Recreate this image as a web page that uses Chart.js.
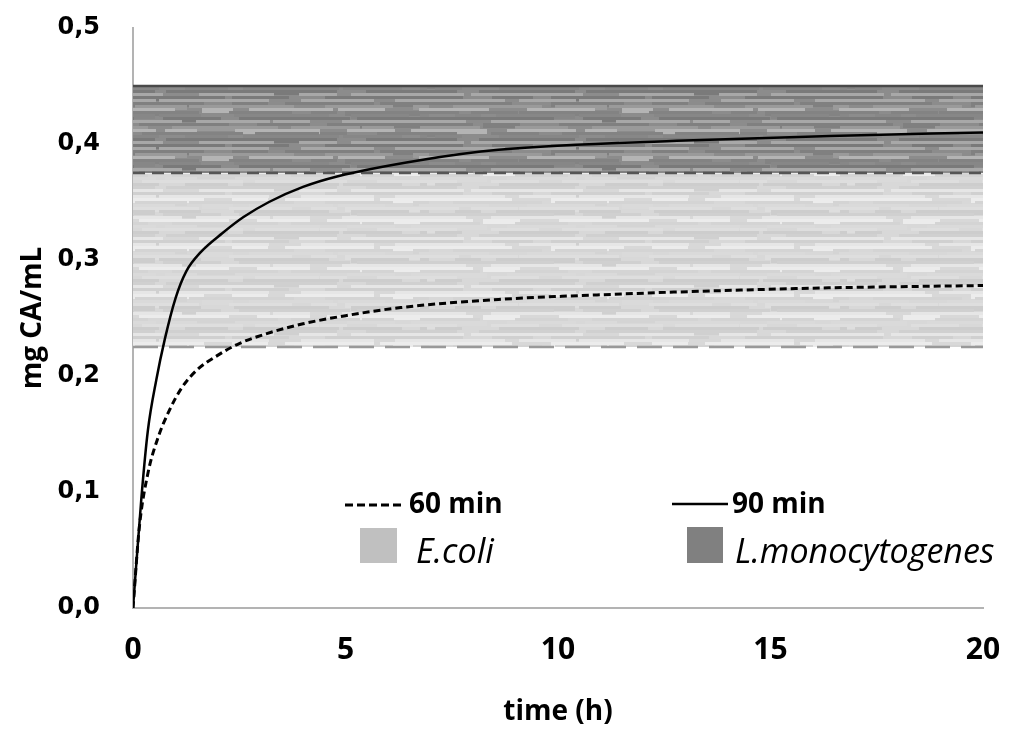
<!DOCTYPE html>
<html>
<head>
<meta charset="utf-8">
<script src="https://cdn.jsdelivr.net/npm/chart.js@4.4.1/dist/chart.umd.min.js"></script>
<style>
  html, body { margin: 0; padding: 0; background: #fff; }
  #wrap { position: relative; width: 1014px; height: 729px; }
  canvas { position: absolute; left: 0; top: 0; }
  .lg { position: absolute; line-height: 1; color: #000; white-space: nowrap; font-family: "Open Sans", sans-serif; }
  .lgb { font-weight: 700; font-size: 28px; }
  .lgi { font-style: italic; font-size: 34px; }
  .sw { position: absolute; }
</style>
</head>
<body>
<div id="wrap">
  <canvas id="c" width="1014" height="729"></canvas>
  <svg class="sw" style="left:343px;top:500px" width="64" height="10"><line x1="2" y1="5" x2="62" y2="5" stroke="#000" stroke-width="3" stroke-dasharray="8,4"/></svg>
  <div class="lg lgb" style="left:409px;top:488px">60 min</div>
  <div class="sw" style="left:360px;top:528px;width:37px;height:35px;background:#c0c0c0"></div>
  <div class="lg lgi" style="left:416px;top:533px">E.coli</div>
  <svg class="sw" style="left:670px;top:499px" width="60" height="10"><line x1="2" y1="5" x2="58" y2="5" stroke="#000" stroke-width="2.5"/></svg>
  <div class="lg lgb" style="left:732px;top:488px">90 min</div>
  <div class="sw" style="left:687px;top:527px;width:36px;height:36px;background:#808080"></div>
  <div class="lg lgi" style="left:735px;top:533px">L.monocytogenes</div>
</div>
<script>
// ---- data ----
const time60 = [0, 0.15, 0.35, 0.6, 0.85, 1.15, 1.5, 2.0, 2.5, 3.1, 4.0, 5.0, 6.3, 8.6, 11, 13.3, 16.4, 20];
const conc60 = [0, 0.07, 0.116, 0.148, 0.17, 0.19, 0.205, 0.218, 0.228, 0.236, 0.245, 0.252, 0.259, 0.266, 0.27, 0.273, 0.276, 0.278];
const time90 = [0, 0.2, 0.35, 0.55, 0.75, 1.0, 1.25, 1.6, 2.1, 2.6, 3.2, 4.0, 4.8, 6.75, 8.6, 13, 16.4, 20];
const conc90 = [0, 0.096, 0.153, 0.197, 0.232, 0.267, 0.29, 0.307, 0.323, 0.337, 0.35, 0.363, 0.372, 0.386, 0.395, 0.403, 0.407, 0.41];
const ecoliRange = [0.225, 0.375];
const listeriaRange = [0.375, 0.45];
const rangeX = [0, 20];
const xTicks = [0, 5, 10, 15, 20];
const yTicks = [0, 0.1, 0.2, 0.3, 0.4, 0.5];
const seriesNames = ["60 min", "90 min"];

const pts = (xs, ys) => xs.map((x, i) => ({ x: x, y: ys[i] }));
const hline = v => rangeX.map(x => ({ x: x, y: v }));

// streaky texture for the bands (deterministic styling only)
function streakPattern(base, shades) {
  const c = document.createElement('canvas');
  c.width = 420; c.height = 48;
  const g = c.getContext('2d');
  g.fillStyle = base; g.fillRect(0, 0, c.width, c.height);
  let k = 0;
  for (let row = 0; row < c.height; row += 3) {
    let x = (row * 37) % 60 - 60;
    while (x < c.width) {
      const len = 25 + ((k * 53 + row * 7) % 90);
      g.fillStyle = shades[(k * 7 + row) % shades.length];
      g.fillRect(x, row, len, 3 + (k % 3 === 0 ? 2 : 0));
      x += len + ((k * 29) % 40);
      k++;
    }
  }
  return g.createPattern(c, 'repeat');
}
const darkFill = streakPattern('#8c8c8c', ['#7a7a7a', '#838383', '#9a9a9a', '#a8a8a8', '#878787', '#b4b4b4', '#808080']);
const lightFill = streakPattern('#d8d8d8', ['#d0d0d0', '#dedede', '#d4d4d4', '#e6e6e6', '#cdcdcd', '#dadada', '#ececec']);

new Chart(document.getElementById('c'), {
  type: 'line',
  data: {
    datasets: [
      { label: seriesNames[0], data: pts(time60, conc60), borderColor: '#000', borderWidth: 3,
        borderDash: [7, 4], pointRadius: 0, cubicInterpolationMode: 'monotone', fill: false },
      { label: seriesNames[1], data: pts(time90, conc90), borderColor: '#000', borderWidth: 2.5,
        pointRadius: 0, cubicInterpolationMode: 'monotone', fill: false },
      { label: 'L.monocytogenes', data: hline(listeriaRange[1]), borderColor: '#4a4a4a', borderWidth: 2.5,
        pointRadius: 0, fill: { target: 3 }, backgroundColor: darkFill },
      { label: 'split', data: hline(listeriaRange[0]), borderColor: '#555', borderWidth: 2.5,
        borderDash: [12, 7], pointRadius: 0, fill: { target: 4 }, backgroundColor: lightFill },
      { label: 'E.coli', data: hline(ecoliRange[0]), borderColor: '#999', borderWidth: 2.5,
        borderDash: [25, 11], pointRadius: 0, fill: false }
    ]
  },
  options: {
    responsive: false,
    animation: false,
    layout: { padding: { left: 0, right: 31, top: 28, bottom: 0 } },
    plugins: {
      legend: { display: false },
      tooltip: { enabled: false },
      filler: { drawTime: 'beforeDatasetsDraw' }
    },
    scales: {
      x: {
        type: 'linear', min: 0, max: 20,
        afterBuildTicks: s => { s.ticks = xTicks.map(v => ({ value: v })); },
        afterFit: s => { s.height = 121; s.paddingLeft = 0; s.paddingRight = 0; },
        grid: { display: false, drawTicks: false },
        border: { display: true, color: '#b3b3b3', width: 2 },
        ticks: { padding: 24, color: '#000', font: { family: 'Open Sans', weight: 'bold', size: 30 },
                 maxRotation: 0, autoSkip: false },
        title: { display: true, text: 'time (h)', color: '#000',
                 font: { family: 'Open Sans', weight: 'bold', size: 28 }, padding: { top: 0, bottom: 0 } }
      },
      y: {
        min: 0, max: 0.5,
        afterBuildTicks: s => { s.ticks = yTicks.map(v => ({ value: v })); },
        afterFit: s => { s.width = 133; s.paddingTop = 0; s.paddingBottom = 0; },
        grid: { display: false, drawTicks: false },
        border: { display: true, color: '#b3b3b3', width: 2 },
        ticks: { padding: 33, color: '#000', font: { family: 'DejaVu Sans', weight: 'bold', size: 24 },
                 callback: v => v.toFixed(1).replace('.', ','), autoSkip: false },
        title: { display: true, text: 'mg CA/mL', color: '#000',
                 font: { family: 'Open Sans', weight: 'bold', size: 28 }, padding: { top: 16, bottom: 0 } }
      }
    }
  }
});
</script>
</body>
</html>
